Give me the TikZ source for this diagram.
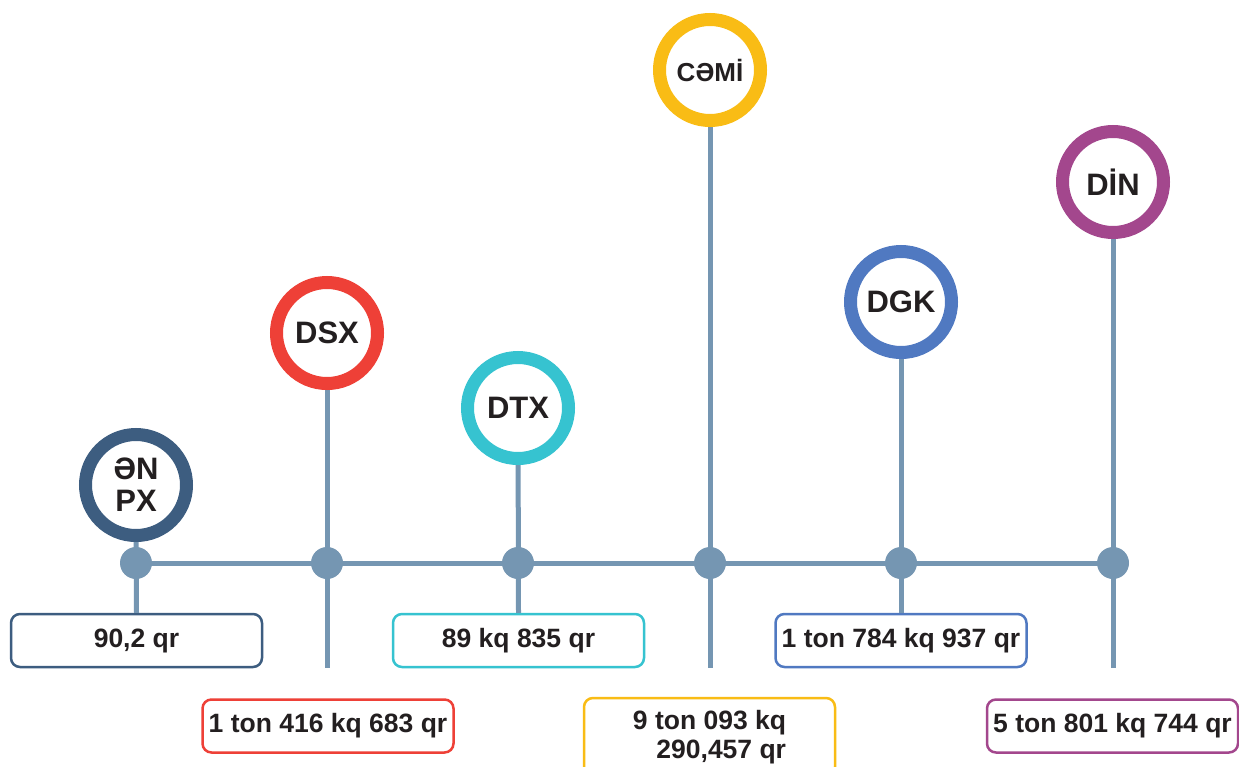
\documentclass[tikz,border=0pt]{standalone}
\usepackage{fontspec}
\setmainfont{Liberation Sans}
\definecolor{enpxcol}{HTML}{3D5D80}
\definecolor{dsxcol}{HTML}{EE4037}
\definecolor{dtxcol}{HTML}{36C3D0}
\definecolor{cemicol}{HTML}{F9BC15}
\definecolor{dgkcol}{HTML}{5079C1}
\definecolor{dincol}{HTML}{A3478D}
\definecolor{stemgray}{HTML}{7596B2}
\definecolor{txt}{HTML}{231F20}
\tikzset{ring/.style={circle, draw=#1, line width=13pt, minimum size=101pt, inner sep=0pt,
      fill=white, text=txt, align=center, font=\fontsize{31}{32}\selectfont\bfseries},
    valuebox/.style={draw=#1, line width=2.5pt, rounded corners=9pt, minimum width=251pt,
      minimum height=53pt, inner sep=0pt, fill=white, text=txt,
      font=\fontsize{26.5}{29}\selectfont\bfseries},
    stem/.style={draw=stemgray, line width=5pt},
    dot/.style={circle, fill=stemgray, minimum size=32pt, inner sep=0pt}}

\begin{document}
\begin{tikzpicture}[x=1pt,y=-1pt]
  \fill[white] (0,0) rectangle (1239,766);
  \useasboundingbox (0,0) rectangle (1239,766);
  % dots on the time line
  \foreach \name/\xpos in {d1/136, d2/327, d3/518, d4/710, d5/901, d6/1113}
    \coordinate (\name) at (\xpos,563);
  \coordinate (e2) at (327,668);
  \coordinate (e4) at (710,668);
  \coordinate (e6) at (1113,668);
  % boxes
  \node[valuebox=enpxcol] (b1) at (136.5,640.5) {90,2 qr};
  \node[valuebox=dsxcol] (b2) at (328,726) {1 ton 416 kq 683 qr};
  \node[valuebox=dtxcol] (b3) at (518.5,640.5) {89 kq 835 qr};
  \node[valuebox=cemicol, minimum height=78pt, align=right] (b4) at (709.5,737)
    {9 ton 093 kq\\290,457 qr};
  \node[valuebox=dgkcol] (b5) at (901,640.5) {1 ton 784 kq 937 qr};
  \node[valuebox=dincol] (b6) at (1112.5,726) {5 ton 801 kq 744 qr};
  % stems
  \draw[stem] (d1) -- (d6);
  \draw[stem] (136,485) -- (b1.north);
  \draw[stem] (327,333) -- (e2);
  \draw[stem] (518,408) -- (b3.north);
  \draw[stem] (710,70) -- (e4);
  \draw[stem] (901,302) -- (b5.north);
  \draw[stem] (1113,182) -- (e6);
  \foreach \name in {d1,d2,d3,d4,d5,d6}
    \node[dot] at (\name) {};
  % rings
  \node[ring=enpxcol] (enpx) at (136,485) {ƏN\\PX};
  \node[ring=dsxcol] (dsx) at (327,333) {DSX};
  \node[ring=dtxcol] (dtx) at (518,408) {DTX};
  \node[ring=cemicol, font=\fontsize{26}{28}\selectfont\bfseries] (cemi) at (710,70) {CƏMİ};
  \node[ring=dgkcol] (dgk) at (901,302) {DGK};
  \node[ring=dincol] (din) at (1113,182) {DİN};
\end{tikzpicture}
\end{document}
